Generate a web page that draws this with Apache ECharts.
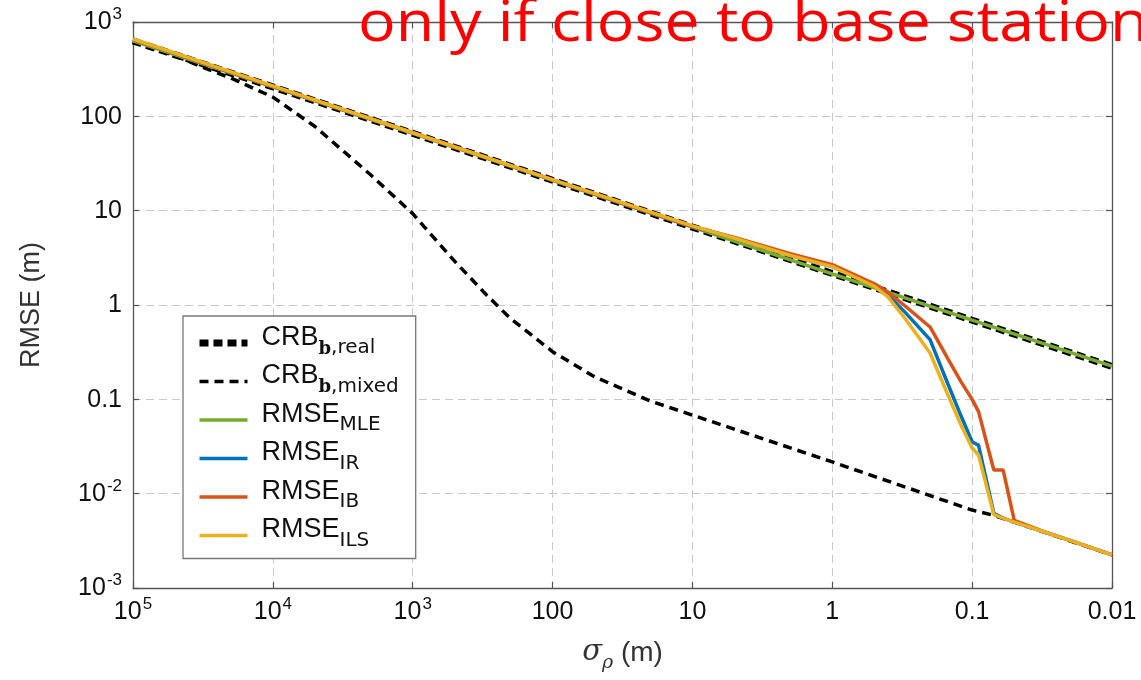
<!DOCTYPE html>
<html><head><meta charset="utf-8">
<script src="https://cdn.jsdelivr.net/npm/echarts@6/dist/echarts.min.js"></script>
<style>html,body{margin:0;padding:0;background:#fff}#c{width:1141px;height:680px}</style>
</head><body><div id="c"></div>
<script>
// ---- tick labels ----
const xTickExp  = [5, 4, 3, 2, 1, 0, -1, -2];
const xTickBase = ['10', '10', '10', '100', '10', '1', '0.1', '0.01'];
const xTickSup  = ['5', '4', '3', '', '', '', '', ''];
const yTickExp  = [3, 2, 1, 0, -1, -2, -3];
const yTickBase = ['10', '100', '10', '1', '0.1', '10', '10'];
const yTickSup  = ['3', '', '', '', '', '-2', '-3'];

// ---- series data ----
const sigmaDec = [1e5, 1e4, 1e3, 100, 10, 1, 0.1, 0.01];
const crbReal  = [630, 205, 66, 21, 6.7, 2.16, 0.69, 0.223];
const rmseMLE  = [630, 205, 66, 21, 6.7, 2.14, 0.69, 0.225];

const sigmaMixed = [1e5, 5e4, 3e4, 2e4, 1e4, 5e3, 2e3, 1e3, 500, 300, 200, 100, 50, 20, 10, 1, 0.1, 0.07, 0.01];
const crbMixed   = [630, 440, 320, 255, 160, 78, 24, 9.3, 2.9, 1.3, 0.72, 0.32, 0.173, 0.096, 0.068, 0.0217, 0.0067, 0.0059, 0.00224];

const sigmaEst = [1e5, 1e4, 1e3, 100, 10, 5, 2, 1, 0.5, 0.4, 0.3, 0.2, 0.15, 0.12, 0.1, 0.09, 0.07, 0.06, 0.05, 0.03, 0.02, 0.01];
const rmseIR  = [655, 208, 67, 21.2, 6.8, 5.1, 3.35, 2.55, 1.6, 1.28, 0.83, 0.43, 0.149, 0.0665, 0.0355, 0.0325, 0.0062, 0.0055, 0.0050, 0.0039, 0.0032, 0.00224];
const rmseIB  = [655, 208, 67, 21.2, 6.8, 5.2, 3.5, 2.68, 1.68, 1.37, 0.97, 0.585, 0.274, 0.153, 0.1, 0.074, 0.0178, 0.0178, 0.0052, 0.0039, 0.0032, 0.00224];
const rmseILS = [660, 210, 67, 21.3, 6.9, 5.1, 3.35, 2.55, 1.58, 1.22, 0.71, 0.31, 0.114, 0.053, 0.0305, 0.0257, 0.0060, 0.0055, 0.0050, 0.0039, 0.0032, 0.00224];

const seriesNames  = ['CRB_real', 'CRB_mixed', 'RMSE_MLE', 'RMSE_IR', 'RMSE_IB', 'RMSE_ILS'];
const legendMain   = ['CRB', 'CRB', 'RMSE', 'RMSE', 'RMSE', 'RMSE'];
const legendBold   = ['b', 'b', '', '', '', ''];
const legendSub    = [',real', ',mixed', 'MLE', 'IR', 'IB', 'ILS'];
const titleText = 'only if close to base station';

const F = '"Liberation Sans", Arial, sans-serif';
const FS = '"DejaVu Sans", sans-serif';
const zip = (xs, ys) => xs.map((x, i) => [x, ys[i]]);

function tickFmt(exps, bases, sups) {
  return v => {
    const e = Math.round(Math.log10(v));
    const i = exps.indexOf(e);
    if (i < 0) return '';
    return '{b|' + bases[i] + '}' + (sups[i] ? '{sup|' + sups[i] + '}' : '');
  };
}
const tickRich = {
  b:   { fontFamily: F, fontSize: 25, color: '#111', lineHeight: 26, padding: [2, 0, 0, 0], verticalAlign: 'bottom' },
  sup: { fontFamily: F, fontSize: 17, color: '#111', lineHeight: 16, padding: [0, 0, 12, 1], verticalAlign: 'bottom' }
};
const gridLine = { show: true, lineStyle: { type: [8, 5], color: '#c8c8c8', width: 1 } };
const axLine = { show: true, lineStyle: { color: '#555', width: 1.3 } };
const axTick = { show: true, inside: true, length: 6, lineStyle: { color: '#555', width: 1.2 } };

const chart = echarts.init(document.getElementById('c'), null, { renderer: 'canvas' });

const lineBase = { type: 'line', showSymbol: false, symbol: 'none', animation: false, z: 2 };

chart.setOption({
  animation: false,
  backgroundColor: '#fff',
  grid: { left: 133, right: 29, top: 22, bottom: 92, containLabel: false },
  xAxis: [
    { type: 'log', logBase: 10, min: 0.01, max: 1e5, inverse: true, position: 'bottom',
      axisLine: axLine, axisTick: axTick, splitLine: gridLine, minorTick: { show: false },
      axisLabel: { margin: 11, formatter: tickFmt(xTickExp, xTickBase, xTickSup), rich: tickRich },
      name: '{i|σ}{s|ρ}{n| (m)}', nameLocation: 'middle', nameGap: 53,
      nameTextStyle: { rich: {
        i: { fontFamily: '"DejaVu Serif", serif', fontStyle: 'italic', fontSize: 29, color: '#333', lineHeight: 32, padding: [0, 0, 6, 0], verticalAlign: 'bottom' },
        s: { fontFamily: '"DejaVu Serif", serif', fontStyle: 'italic', fontSize: 19, color: '#333', lineHeight: 20, verticalAlign: 'bottom' },
        n: { fontFamily: F, fontSize: 28, color: '#333', lineHeight: 32, padding: [0, 0, 6, 0], verticalAlign: 'bottom' }
      } } },
    { type: 'log', logBase: 10, min: 0.01, max: 1e5, inverse: true, position: 'top',
      axisLine: axLine, axisTick: axTick, splitLine: { show: false }, axisLabel: { show: false } }
  ],
  yAxis: [
    { type: 'log', logBase: 10, min: 0.001, max: 1000, position: 'left',
      axisLine: axLine, axisTick: axTick, splitLine: gridLine, minorTick: { show: false },
      axisLabel: { margin: 11, formatter: tickFmt(yTickExp, yTickBase, yTickSup), rich: tickRich },
      name: 'RMSE (m)', nameLocation: 'middle', nameGap: 88, nameRotate: 90,
      nameTextStyle: { fontFamily: F, fontSize: 27, color: '#333' } },
    { type: 'log', logBase: 10, min: 0.001, max: 1000, position: 'right',
      axisLine: axLine, axisTick: axTick, splitLine: { show: false }, axisLabel: { show: false } }
  ],
  legend: {
    data: seriesNames, orient: 'vertical', left: 183, top: 316,
    itemWidth: 48, itemHeight: 14, itemGap: 4.5,
    padding: [8, 17, 8, 13],
    backgroundColor: '#fff', borderColor: '#777', borderWidth: 1.3, borderRadius: 0,
    z: 5,
    itemStyle: { opacity: 0 },
    lineStyle: { width: 'inherit', type: 'inherit' },
    formatter: name => {
      const i = seriesNames.indexOf(name);
      return '{m|' + legendMain[i] + '}' + (legendBold[i] ? '{sb|' + legendBold[i] + '}' : '') + '{s|' + legendSub[i] + '}';
    },
    textStyle: { rich: {
      m:  { fontFamily: F, fontSize: 27, color: '#111', lineHeight: 30, padding: [0, 0, 7, 9], verticalAlign: 'bottom' },
      sb: { fontFamily: '"DejaVu Serif", serif', fontWeight: 'bold', fontSize: 18, color: '#111', lineHeight: 20, verticalAlign: 'bottom' },
      s:  { fontFamily: FS, fontSize: 20, color: '#111', lineHeight: 20, verticalAlign: 'bottom' }
    } }
  },
  graphic: [
    { type: 'text', x: 358, y: -3, scaleX: 1.12, z: 100,
      style: { text: titleText, fill: '#ff0000', font: '56px "Open Sans", sans-serif' } }
  ],
  series: [
    Object.assign({}, lineBase, { name: seriesNames[0], data: zip(sigmaDec, crbReal),
      lineStyle: { color: '#000', width: 7, type: [9, 5] }, itemStyle: { color: '#000' } }),
    Object.assign({}, lineBase, { name: seriesNames[1], data: zip(sigmaMixed, crbMixed),
      lineStyle: { color: '#000', width: 3.5, type: [9, 6] }, itemStyle: { color: '#000' } }),
    Object.assign({}, lineBase, { name: seriesNames[2], data: zip(sigmaDec, rmseMLE),
      lineStyle: { color: '#77ac30', width: 3.5 }, itemStyle: { color: '#77ac30' } }),
    Object.assign({}, lineBase, { name: seriesNames[3], data: zip(sigmaEst, rmseIR),
      lineStyle: { color: '#0072bd', width: 3.5 }, itemStyle: { color: '#0072bd' } }),
    Object.assign({}, lineBase, { name: seriesNames[4], data: zip(sigmaEst, rmseIB),
      lineStyle: { color: '#d95319', width: 3.5 }, itemStyle: { color: '#d95319' } }),
    Object.assign({}, lineBase, { name: seriesNames[5], data: zip(sigmaEst, rmseILS),
      lineStyle: { color: '#edb120', width: 3.5 }, itemStyle: { color: '#edb120' } })
  ]
});
</script></body></html>
